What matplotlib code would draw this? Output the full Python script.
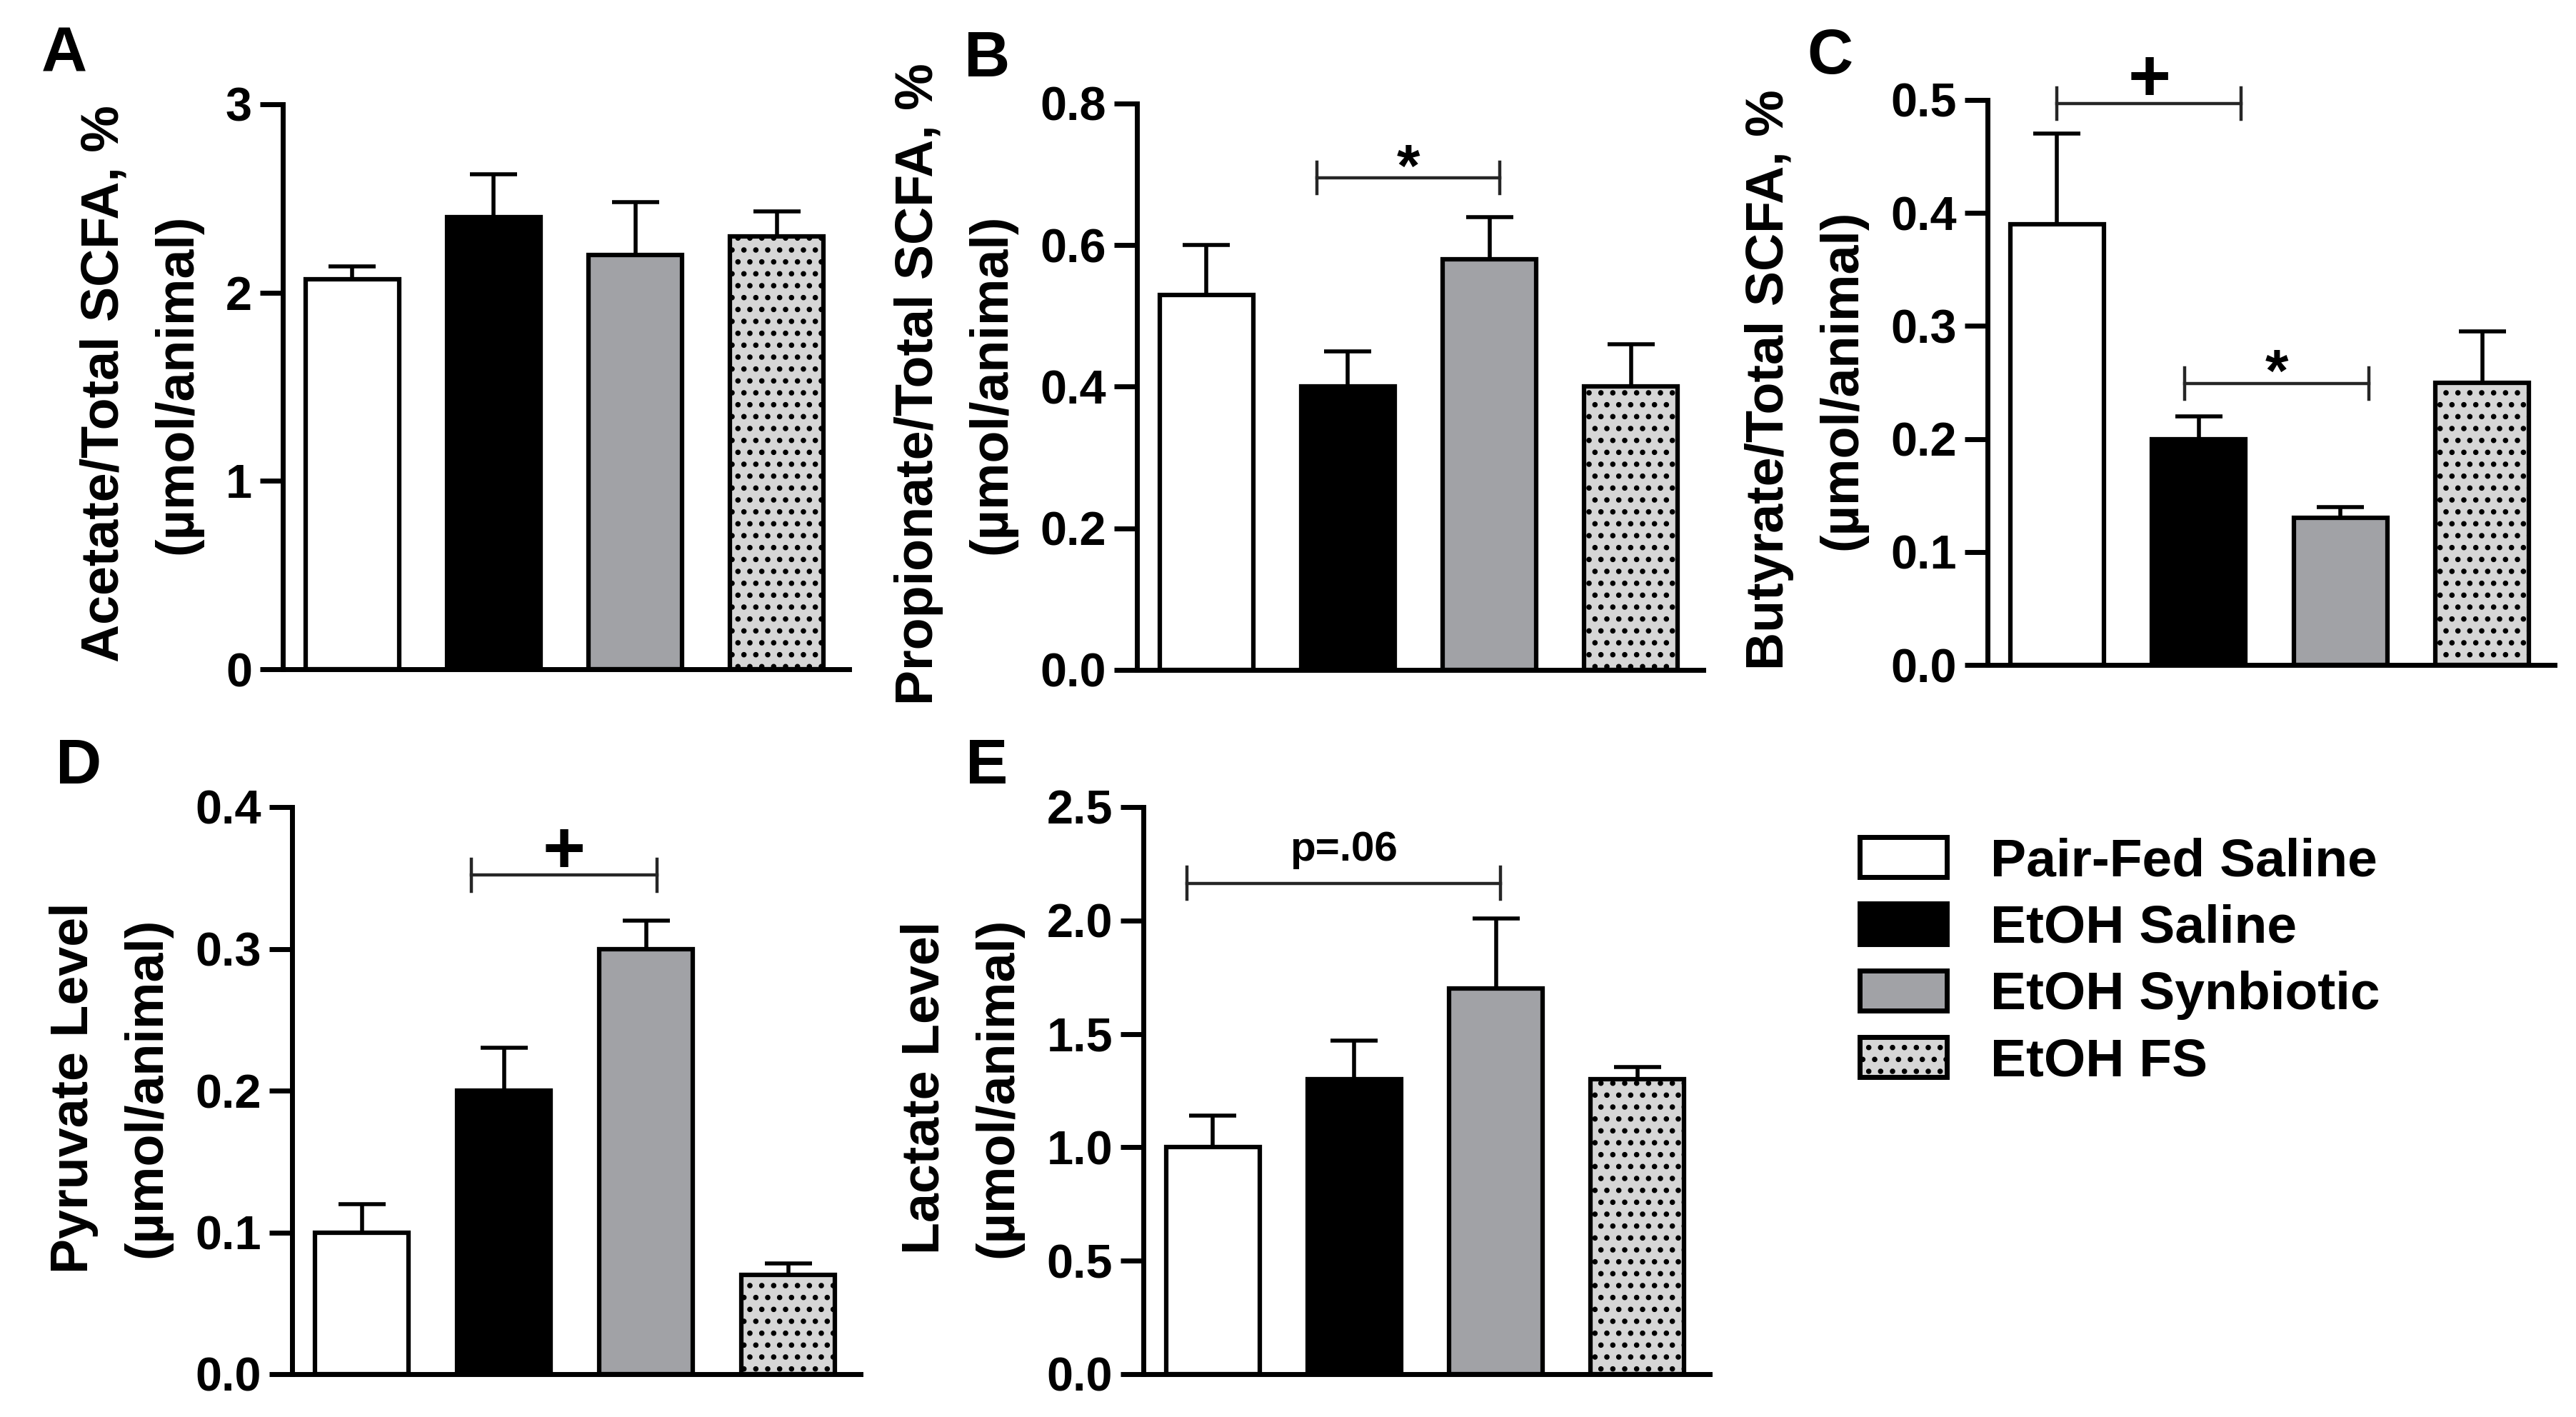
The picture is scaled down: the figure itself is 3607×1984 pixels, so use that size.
import matplotlib
matplotlib.use('Agg')
import matplotlib.pyplot as plt
from matplotlib.patches import Patch

plt.rcParams['font.family'] = ['Liberation Sans', 'DejaVu Sans']
plt.rcParams['font.weight'] = 'bold'
plt.rcParams['hatch.linewidth'] = 3

# groups and colours
groups = ['Pair-Fed Saline', 'EtOH Saline', 'EtOH Synbiotic', 'EtOH FS']
face_colors = ['#ffffff', '#000000', '#a1a2a6', '#d6d6d6']
hatches = ['', '', '', '.']

# panel data (mean, upper SEM)
acetate = [2.07, 2.40, 2.20, 2.30]
acetate_err = [0.07, 0.23, 0.28, 0.13]
propionate = [0.53, 0.40, 0.58, 0.40]
propionate_err = [0.07, 0.05, 0.06, 0.06]
butyrate = [0.39, 0.20, 0.13, 0.25]
butyrate_err = [0.08, 0.02, 0.01, 0.045]
pyruvate = [0.10, 0.20, 0.30, 0.07]
pyruvate_err = [0.02, 0.03, 0.02, 0.008]
lactate = [1.00, 1.30, 1.70, 1.30]
lactate_err = [0.14, 0.17, 0.31, 0.055]

acetate_ticks = [0, 1, 2, 3]
acetate_ticklabels = ['0', '1', '2', '3']
propionate_ticks = [0.0, 0.2, 0.4, 0.6, 0.8]
propionate_ticklabels = ['0.0', '0.2', '0.4', '0.6', '0.8']
butyrate_ticks = [0.0, 0.1, 0.2, 0.3, 0.4, 0.5]
butyrate_ticklabels = ['0.0', '0.1', '0.2', '0.3', '0.4', '0.5']
pyruvate_ticks = [0.0, 0.1, 0.2, 0.3, 0.4]
pyruvate_ticklabels = ['0.0', '0.1', '0.2', '0.3', '0.4']
lactate_ticks = [0.0, 0.5, 1.0, 1.5, 2.0, 2.5]
lactate_ticklabels = ['0.0', '0.5', '1.0', '1.5', '2.0', '2.5']

# y-axis titles (two lines each)
acetate_title = ['Acetate/Total SCFA, %', '(\u00b5mol/animal)']
propionate_title = ['Propionate/Total SCFA, %', '(\u00b5mol/animal)']
butyrate_title = ['Butyrate/Total SCFA, %', '(\u00b5mol/animal)']
pyruvate_title = ['Pyruvate Level', '(\u00b5mol/animal)']
lactate_title = ['Lactate Level', '(\u00b5mol/animal)']

# significance brackets: (x_start, x_end, bracket_y, label, label_y)
propionate_sig = [(0.78, 2.07, 0.695, '*', 0.705)]
butyrate_sig = [(0.0, 1.30, 0.497, '+', 0.516), (0.90, 2.20, 0.249, '*', 0.256)]
pyruvate_sig = [(0.77, 2.08, 0.352, '+', 0.367)]
lactate_sig = [(-0.18, 2.03, 2.164, 'p=.06', 2.31)]

W, H = 3607, 1984


def draw_panel(rect, values, errs, ticks, ticklabels, letter, letter_xy, brackets):
  ax = fig.add_axes(rect)
  x = list(range(len(values)))
  ax.bar(x, values, width=0.66, color=face_colors, edgecolor='black',
         linewidth=4.5, hatch=hatches, zorder=2)
  ax.errorbar(x, values, yerr=[[0] * len(errs), errs], fmt='none', ecolor='black',
              elinewidth=4, capsize=24, capthick=4, zorder=3)

  ax.set_xlim(-0.49, 3.51)
  ax.set_ylim(0, ticks[-1])
  ax.set_xticks([])
  ax.set_yticks(ticks)
  ax.set_yticklabels(ticklabels)
  ax.tick_params(axis='y', length=23, width=5, pad=8, labelsize=48, direction='out')
  for side in ['top', 'right']:
      ax.spines[side].set_visible(False)
  for side in ['left', 'bottom']:
      ax.spines[side].set_linewidth(5)

  tick_h = 0.028 * ticks[-1]
  for x0, x1, y, label, label_y in brackets:
      ax.plot([x0, x1], [y, y], color='#262626', lw=3.2, clip_on=False, zorder=4)
      ax.plot([x0, x0], [y - tick_h, y + tick_h], color='#262626', lw=3.2, clip_on=False, zorder=4)
      ax.plot([x1, x1], [y - tick_h, y + tick_h], color='#262626', lw=3.2, clip_on=False, zorder=4)
      size = 74 if label == '+' else (60 if label == '*' else 42)
      ax.text((x0 + x1) / 2, label_y, label, ha='center', va='center',
              fontsize=size, fontweight='bold', clip_on=False)

  fig.text(letter_xy[0] / W, 1 - letter_xy[1] / H, letter, fontsize=64,
           fontweight='bold', ha='left', va='center')
  return ax


fig = plt.figure(figsize=(W / 100, H / 100), dpi=100)


def rect_px(left, right, top, bottom):
  return [left / W, 1 - bottom / H, (right - left) / W, (bottom - top) / H]


panels = [
  (draw_panel(rect_px(396, 1189, 146, 937), acetate, acetate_err, acetate_ticks,
              acetate_ticklabels, 'A', (58, 78), []), acetate_title),
  (draw_panel(rect_px(1592, 2385, 145, 938), propionate, propionate_err, propionate_ticks,
              propionate_ticklabels, 'B', (1350, 84), propionate_sig), propionate_title),
  (draw_panel(rect_px(2783, 3577, 140, 931), butyrate, butyrate_err, butyrate_ticks,
              butyrate_ticklabels, 'C', (2530, 80), butyrate_sig), butyrate_title),
  (draw_panel(rect_px(409, 1205, 1130, 1924), pyruvate, pyruvate_err, pyruvate_ticks,
              pyruvate_ticklabels, 'D', (78, 1074), pyruvate_sig), pyruvate_title),
  (draw_panel(rect_px(1601, 2394, 1130, 1924), lactate, lactate_err, lactate_ticks,
              lactate_ticklabels, 'E', (1352, 1074), lactate_sig), lactate_title),
]

# place the two title lines left of the tick labels
fig.canvas.draw()
renderer = fig.canvas.get_renderer()
for ax, (line1, line2) in panels:
  left = min(t.get_window_extent(renderer).x0 for t in ax.get_yticklabels())
  bbox = ax.get_window_extent(renderer)
  yc = (bbox.y0 + bbox.height * 0.505) / H
  fig.text((left - 67) / W, yc, line2, rotation=90, ha='center', va='center',
           fontsize=53, fontweight='bold')
  fig.text((left - 170) / W, yc, line1, rotation=90, ha='center', va='center',
           fontsize=53, fontweight='bold')

handles = [Patch(facecolor=c, edgecolor='black', linewidth=5, hatch=h)
           for c, h in zip(face_colors, hatches)]
fig.legend(handles, groups, loc='upper left', bbox_to_anchor=(2604 / W, 1 - 1172 / H),
           frameon=False, fontsize=54, handlelength=1.62, handleheight=0.78,
           handletextpad=0.82, labelspacing=0.32, borderaxespad=0, borderpad=0)

fig.savefig('out.png', dpi=100)
